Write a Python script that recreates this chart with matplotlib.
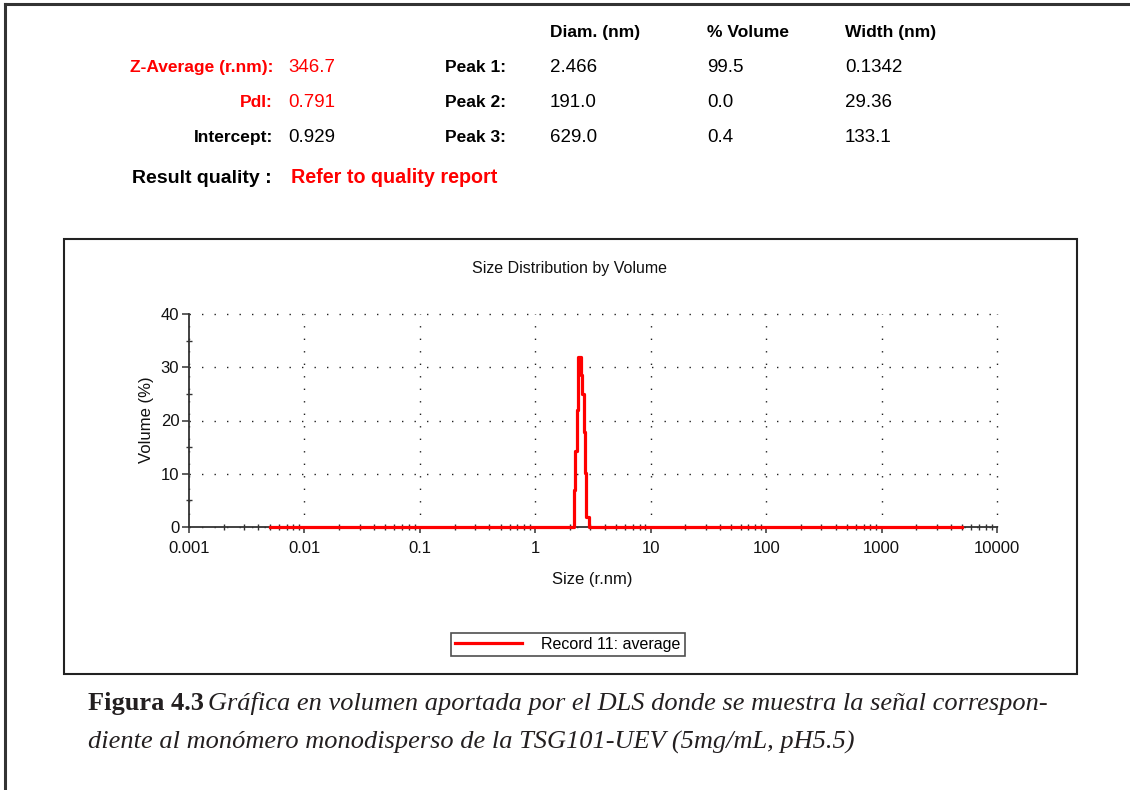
import matplotlib
matplotlib.use("Agg")
import matplotlib.pyplot as plt
from matplotlib.patches import Rectangle
from matplotlib.lines import Line2D
from matplotlib.ticker import FixedLocator, FixedFormatter, NullFormatter

# ---------------- data ----------------
size_nm = [0.005, 2.15, 2.23, 2.30, 2.365, 2.495, 2.56, 2.63, 2.69, 2.77, 2.90, 5000]
volume_pct = [0.0, 6.9, 14.3, 21.9, 31.9, 28.5, 25.0, 17.8, 10.1, 1.9, 0.0, 0.0]

x_ticks = [0.001, 0.01, 0.1, 1, 10, 100, 1000, 10000]
x_tick_labels = ["0.001", "0.01", "0.1", "1", "10", "100", "1000", "10000"]
y_ticks = [0, 10, 20, 30, 40]
y_minor = [5, 15, 25, 35]

left_labels = ["Z-Average (r.nm):", "PdI:", "Intercept:"]
left_values = ["346.7", "0.791", "0.929"]
left_colors = ["#ff0000", "#ff0000", "#000000"]
peak_names = ["Peak 1:", "Peak 2:", "Peak 3:"]
col_headers = ["Diam. (nm)", "% Volume", "Width (nm)"]
peak_diam = ["2.466", "191.0", "629.0"]
peak_vol = ["99.5", "0.0", "0.4"]
peak_width = ["0.1342", "29.36", "133.1"]

W, H = 1130, 790
fig = plt.figure(figsize=(W / 100, H / 100), dpi=100)
fig.patch.set_facecolor("white")
SANS = ["Liberation Sans", "DejaVu Sans"]
SERIF = ["Liberation Serif", "DejaVu Serif"]


def fx(x):
    return x / W


def fy(y):
    return 1 - y / H


def txt(x, y, s, ha="left", va="baseline", **kw):
    kw.setdefault("family", SANS)
    fig.text(fx(x), fy(y), s, ha=ha, va=va, **kw)


# outer page border (top and left)
fig.add_artist(Line2D([fx(5), fx(1130)], [fy(4), fy(4)], color="#333333", lw=2.2))
fig.add_artist(Line2D([fx(5), fx(5)], [fy(4), fy(790)], color="#333333", lw=2.2))

# ---------------- header text ----------------
row_y = [72, 107, 142]
for i in range(3):
    txt(273, row_y[i], left_labels[i], ha="right", color=left_colors[i],
        fontsize=12.5, fontweight="bold")
    txt(288, row_y[i], left_values[i], color=left_colors[i], fontsize=13.5)
    txt(445, row_y[i], peak_names[i], fontsize=12.5, fontweight="bold")
    txt(550, row_y[i], peak_diam[i], fontsize=13.5)
    txt(707, row_y[i], peak_vol[i], fontsize=13.5)
    txt(845, row_y[i], peak_width[i], fontsize=13.5)

for x, h in zip([550, 707, 845], col_headers):
    txt(x, 37, h, fontsize=12.5, fontweight="bold")

txt(272, 183, "Result quality :", ha="right", fontsize=14, fontweight="bold")
txt(291, 183, "Refer to quality report", color="#ff0000", fontsize=14.2,
    fontweight="bold")

# chart frame
fig.add_artist(Rectangle((fx(64), fy(674)), fx(1077) - fx(64), fy(239) - fy(674),
                         transform=fig.transFigure, fill=False,
                         edgecolor="#222222", lw=1.5))

# ---------------- axes ----------------
ax = fig.add_axes([fx(189), fy(527), fx(997) - fx(189), fy(314) - fy(527)])
ax.set_facecolor("none")
ax.set_xscale("log")
ax.set_xlim(0.001, 10000)
ax.set_ylim(0, 40)

ax.plot(size_nm, volume_pct, color="#ff0000", lw=2.3, drawstyle="steps-post",
        clip_on=False, zorder=5, label="Record 11: average")

for s in ["top", "right"]:
    ax.spines[s].set_visible(False)
for s in ["left", "bottom"]:
    ax.spines[s].set_color("#333333")
    ax.spines[s].set_linewidth(1.3)

ax.xaxis.set_major_locator(FixedLocator(x_ticks))
ax.xaxis.set_major_formatter(FixedFormatter(x_tick_labels))
ax.xaxis.set_minor_formatter(NullFormatter())
ax.yaxis.set_major_locator(FixedLocator(y_ticks))
ax.yaxis.set_minor_locator(FixedLocator(y_minor))

ax.tick_params(axis="x", which="major", direction="out", length=4, width=1.1,
               color="#333333", pad=6, labelsize=12)
ax.tick_params(axis="x", which="minor", direction="inout", length=4, width=1.0,
               color="#333333")
ax.tick_params(axis="y", which="major", direction="out", length=5, width=1.1,
               color="#333333", pad=2, labelsize=12)
ax.tick_params(axis="y", which="minor", direction="inout", length=5, width=1.0,
               color="#333333")
for lab in ax.get_xticklabels() + ax.get_yticklabels():
    lab.set_family(SANS)
    lab.set_color("#111111")

ax.grid(True, which="major", color="#222222", linestyle=(0, (1, 8)), lw=1.0)
for gl in ax.get_xgridlines() + ax.get_ygridlines():
    gl.set_clip_on(False)

txt(569, 273, "Size Distribution by Volume", ha="center", fontsize=11.5,
    color="#111111")
txt(592, 584, "Size (r.nm)", ha="center", fontsize=12, color="#111111")
txt(146, 420, "Volume (%)", ha="center", va="center", rotation=90, fontsize=12,
    color="#111111")

leg = fig.legend(loc="upper left", bbox_to_anchor=(fx(451), fy(633)),
                 bbox_transform=fig.transFigure, frameon=True, fancybox=False,
                 prop={"family": SANS, "size": 11.5}, handlelength=4.2,
                 handletextpad=1.2, borderpad=0.25, borderaxespad=0)
leg.get_frame().set_edgecolor("#222222")
leg.get_frame().set_linewidth(1.2)

# ---------------- caption ----------------
txt(88, 710, "Figura 4.3", family=SERIF, fontsize=19, fontweight="bold",
    color="#231f20")
txt(208, 710, "Gráfica en volumen aportada por el DLS donde se muestra la señal correspon-",
    family=SERIF, fontsize=19, style="italic", color="#231f20")
txt(88, 749, "diente al monómero monodisperso de la TSG101-UEV (5mg/mL, pH5.5)",
    family=SERIF, fontsize=19, style="italic", color="#231f20")

fig.savefig("out.png", dpi=100, facecolor="white")
